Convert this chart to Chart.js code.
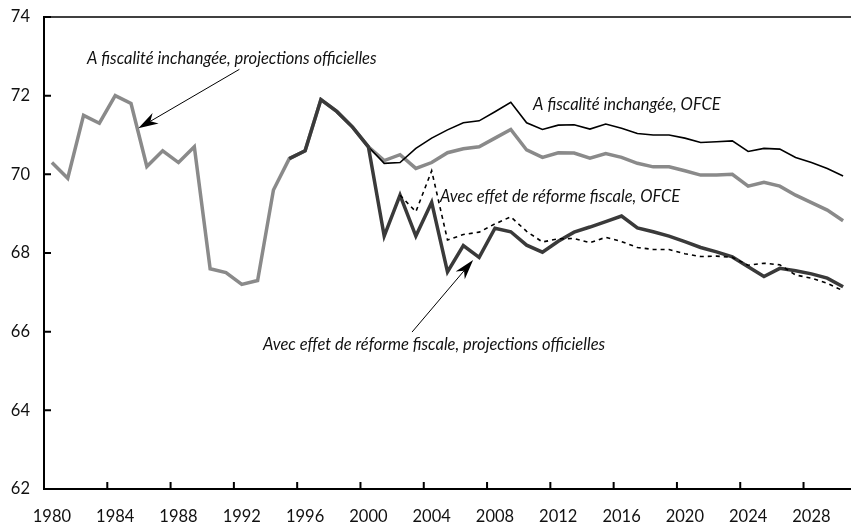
<!DOCTYPE html>
<html>
<head>
<meta charset="utf-8">
<script src="https://cdn.jsdelivr.net/npm/chart.js@4.4.1/dist/chart.umd.min.js"></script>
<style>
  html, body { margin: 0; padding: 0; background: #fff; }
  #wrap { width: 851px; height: 531px; }
</style>
</head>
<body>
<div id="wrap"><canvas id="chart" width="851" height="531"></canvas></div>
<script>
// years on the x axis (one category per year)
const years = [
  1980, 1981, 1982, 1983, 1984, 1985, 1986, 1987, 1988, 1989,
  1990, 1991, 1992, 1993, 1994, 1995, 1996, 1997, 1998, 1999,
  2000, 2001, 2002, 2003, 2004, 2005, 2006, 2007, 2008, 2009,
  2010, 2011, 2012, 2013, 2014, 2015, 2016, 2017, 2018, 2019,
  2020, 2021, 2022, 2023, 2024, 2025, 2026, 2027, 2028, 2029,
  2030
];
const yTicks = [62, 64, 66, 68, 70, 72, 74];

// A fiscalité inchangée, projections officielles (grey)
const inchangeeOfficiel = [
  70.3, 69.9, 71.5, 71.3, 72.0, 71.8, 70.2, 70.6, 70.3, 70.7,
  67.6, 67.5, 67.2, 67.3, 69.6, 70.4, 70.6, 71.9, 71.6, 71.2,
  70.7, 70.35, 70.5, 70.15, 70.3, 70.55, 70.65, 70.7, 70.92, 71.14,
  70.62, 70.43, 70.55, 70.54, 70.41, 70.53, 70.43, 70.28, 70.19, 70.19,
  70.09, 69.98, 69.98, 70.0, 69.7, 69.8, 69.7, 69.47, 69.28, 69.09,
  68.82
];

// A fiscalité inchangée, OFCE (thin black)
const inchangeeOFCE = [
  null, null, null, null, null, null, null, null, null, null,
  null, null, null, null, null, null, null, null, null, null,
  70.7, 70.28, 70.3, 70.66, 70.92, 71.13, 71.31, 71.36, 71.59, 71.83,
  71.31, 71.14, 71.25, 71.26, 71.15, 71.28, 71.17, 71.04, 71.0, 71.0,
  70.92, 70.81, 70.83, 70.85, 70.58, 70.66, 70.64, 70.43, 70.3, 70.15,
  69.96
];

// Avec effet de réforme fiscale, projections officielles (dark)
const reformeOfficiel = [
  null, null, null, null, null, null, null, null, null, null,
  null, null, null, null, null, 70.4, 70.6, 71.9, 71.6, 71.2,
  70.7, 68.43, 69.47, 68.43, 69.29, 67.52, 68.19, 67.89, 68.63, 68.54,
  68.2, 68.02, 68.3, 68.53, 68.66, 68.8, 68.94, 68.64, 68.54, 68.43,
  68.29, 68.14, 68.03, 67.9, 67.65, 67.4, 67.61, 67.55, 67.47, 67.36,
  67.14
];

// Avec effet de réforme fiscale, OFCE (dotted)
const reformeOFCE = [
  null, null, null, null, null, null, null, null, null, null,
  null, null, null, null, null, null, null, null, null, null,
  null, null, 69.47, 69.05, 70.09, 68.33, 68.47, 68.53, 68.74, 68.92,
  68.55, 68.28, 68.36, 68.37, 68.26, 68.4, 68.29, 68.14, 68.09, 68.09,
  67.98, 67.91, 67.92, 67.89, 67.69, 67.74, 67.7, 67.44, 67.36, 67.23,
  67.04
];

// text labels and arrows, placed in (year, value) coordinates
const notes = [
  { text: 'A fiscalité inchangée, projections officielles', year: 1982.22, value: 72.8 },
  { text: 'A fiscalité inchangée, OFCE', year: 2010.41, value: 71.64 },
  { text: 'Avec effet de réforme fiscale, OFCE', year: 2004.53, value: 69.3 },
  { text: 'Avec effet de réforme fiscale, projections officielles', year: 1993.34, value: 65.53 }
];
const arrows = [
  { from: [1991.85, 72.67], to: [1985.46, 71.17] },
  { from: [2002.76, 65.99], to: [2006.62, 67.82] }
];

const FONT = 'Lato, "Open Sans", "DejaVu Sans", sans-serif';

const frame = {
  id: 'frame',
  afterDraw(chart) {
    const { ctx, chartArea: a, scales: { x, y } } = chart;
    const px = yr => x.getPixelForValue(yr - years[0]);
    ctx.save();
    // top rule
    ctx.strokeStyle = '#000';
    ctx.lineWidth = 1.5;
    ctx.beginPath();
    ctx.moveTo(a.left, a.top);
    ctx.lineTo(a.right, a.top);
    ctx.stroke();
    // inward tick marks
    ctx.lineWidth = 2;
    ctx.beginPath();
    yTicks.forEach(v => {
      const py = y.getPixelForValue(v);
      ctx.moveTo(a.left, py);
      ctx.lineTo(a.left + 7, py);
    });
    years.forEach((yr, i) => {
      if (yr % 4 !== 0 || i === 0) return;
      const p = x.getPixelForValue(i - 0.5);
      ctx.moveTo(p, a.bottom);
      ctx.lineTo(p, a.bottom - 7);
    });
    ctx.stroke();

    // labels
    ctx.fillStyle = '#111';
    ctx.font = 'italic 16.5px ' + FONT;
    ctx.textAlign = 'left';
    ctx.textBaseline = 'alphabetic';
    notes.forEach(n => ctx.fillText(n.text, px(n.year), y.getPixelForValue(n.value)));

    // arrows
    ctx.strokeStyle = '#000';
    ctx.fillStyle = '#000';
    arrows.forEach(ar => {
      const x0 = px(ar.from[0]), y0 = y.getPixelForValue(ar.from[1]);
      const x1 = px(ar.to[0]), y1 = y.getPixelForValue(ar.to[1]);
      const ang = Math.atan2(y1 - y0, x1 - x0);
      const len = 20, half = 6, notch = 14;
      ctx.lineWidth = 1;
      ctx.beginPath();
      ctx.moveTo(x0, y0);
      ctx.lineTo(x1 - Math.cos(ang) * notch, y1 - Math.sin(ang) * notch);
      ctx.stroke();
      const bx = x1 - Math.cos(ang) * len, by = y1 - Math.sin(ang) * len;
      ctx.beginPath();
      ctx.moveTo(x1, y1);
      ctx.lineTo(bx + Math.sin(ang) * half, by - Math.cos(ang) * half);
      ctx.lineTo(x1 - Math.cos(ang) * notch, y1 - Math.sin(ang) * notch);
      ctx.lineTo(bx - Math.sin(ang) * half, by + Math.cos(ang) * half);
      ctx.closePath();
      ctx.fill();
    });
    ctx.restore();
  }
};

const line = (data, color, width, dash) => ({
  data,
  borderColor: color,
  borderWidth: width,
  borderDash: dash || [],
  pointRadius: 0,
  tension: 0,
  fill: false,
  spanGaps: false
});

new Chart(document.getElementById('chart'), {
  type: 'line',
  data: {
    labels: years.map(String),
    // first dataset is drawn on top
    datasets: [
      line(reformeOFCE, '#000', 1.6, [4, 4]),
      line(reformeOfficiel, '#3a3a3a', 3.5),
      line(inchangeeOFCE, '#000', 1.6),
      line(inchangeeOfficiel, '#8a8a8a', 3.5)
    ]
  },
  options: {
    responsive: false,
    animation: false,
    devicePixelRatio: 1,
    layout: { padding: { top: 17, right: 0, bottom: 0, left: 0 } },
    plugins: { legend: { display: false }, tooltip: { enabled: false } },
    scales: {
      x: {
        type: 'category',
        offset: true,
        grid: { display: false, drawTicks: false },
        border: { display: true, color: '#000', width: 2 },
        ticks: {
          autoSkip: false,
          maxRotation: 0,
          padding: 18,
          color: '#111',
          font: { family: FONT, size: 16.5 },
          callback: (v, i) => (years[i] % 4 === 0 ? String(years[i]) : '')
        },
        afterFit: s => { s.height = 42; s.paddingLeft = 0; s.paddingRight = 0; }
      },
      y: {
        min: 62,
        max: 74,
        grid: { display: false, drawTicks: false },
        border: { display: true, color: '#000', width: 2 },
        ticks: {
          stepSize: 2,
          padding: 14,
          color: '#111',
          font: { family: FONT, size: 16.5 }
        },
        afterFit: s => { s.width = 44; s.paddingTop = 0; s.paddingBottom = 0; }
      }
    }
  },
  plugins: [frame]
});
</script>
</body>
</html>
